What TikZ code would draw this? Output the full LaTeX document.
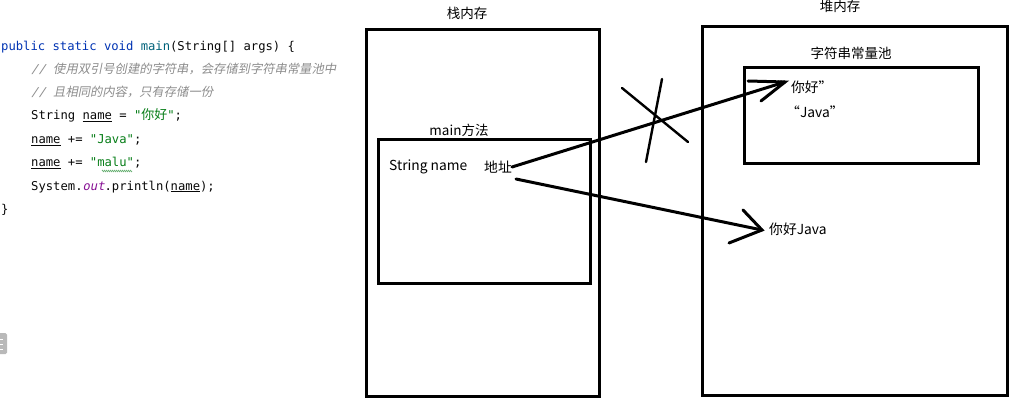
\documentclass[tikz,border=0pt]{standalone}
\usepackage{fontspec}
\usetikzlibrary{decorations.pathmorphing}
\setmainfont{Noto Sans CJK SC}
\newfontfamily\codefont{DejaVu Sans Mono}
\newfontfamily\codeit[FakeSlant=0.2]{DejaVu Sans Mono}
\newfontfamily\cjk{Noto Sans CJK SC}
\newfontfamily\cjkit[FakeSlant=0.2]{Noto Sans CJK SC}
\definecolor{kw}{HTML}{0033B3}
\definecolor{fn}{HTML}{00627A}
\definecolor{str}{HTML}{067D17}
\definecolor{cm}{HTML}{8C8C8C}
\definecolor{outc}{HTML}{871094}
\definecolor{txt}{HTML}{080808}
\newcommand{\cfs}{\fontsize{12.2}{14}\selectfont}
\newcommand{\zh}[1]{{\cjk\fontsize{13}{14}\selectfont #1}}
\newcommand{\zhit}[1]{{\cjkit\fontsize{12.3}{14}\selectfont #1}}
\newcommand{\nm}{\underline{name}}
\begin{document}
\begin{tikzpicture}[x=1pt,y=-1pt,
  code/.style={anchor=base west,inner sep=0pt,font=\codefont\cfs,text=txt},
  box/.style={draw,line width=3pt,minimum width=#1,inner sep=0pt},
  lbl/.style={inner sep=0pt,font=\fontsize{13.5}{15}\selectfont},
  txtn/.style={inner sep=0pt,font=\fontsize{13.8}{15}\selectfont},
  pen/.style={line width=3pt,line cap=round},
  thin pen/.style={line width=2.4pt,line cap=round}]
\useasboundingbox (0,0) rectangle (1018,401);
% code
\node[code] (c1) at (1,51) {\textcolor{kw}{public static void} \textcolor{fn}{main}(String[] args) \{};
\node[code] (c2) at (31,74) {\textcolor{cm}{{\codeit//} \zhit{使用双引号创建的字符串，会存储到字符串常量池中}}};
\node[code] (c3) at (31,97) {\textcolor{cm}{{\codeit//} \zhit{且相同的内容，只有存储一份}}};
\node[code] (c4) at (31,120) {String \nm{} = \textcolor{str}{"\zh{你好}"};};
\node[code] (c5) at (31,144) {\nm{} += \textcolor{str}{"Java"};};
\node[code] (c6) at (31,167) {\nm{} += \textcolor{str}{"malu"};};
\node[code] (c7) at (31,190) {System.\textcolor{outc}{\codeit out}.println(\nm);};
\node[code] (c8) at (1,213) {\}};
\draw[str!60,line width=0.6pt,decorate,decoration={zigzag,amplitude=0.8pt,segment length=2pt}] (102,171) -- (132,171);
% left artifact
\fill[gray!55,rounded corners=1.5pt] (-3,333) rectangle (7,354);
\foreach \yy in {339,344,349} \draw[white,line width=1pt] (0,\yy) -- (3,\yy);
% stack
\node[box=233pt,minimum height=366pt] (stack) at (482.5,213) {};
\node[lbl] (stacklbl) at (467,13) {栈内存};
\node[box=212pt,minimum height=143pt] (mainbox) at (484,211.5) {};
\node[lbl,anchor=south] (mainlbl) at (459,137) {main方法};
\node[txtn,anchor=west] (sn) at (389,167) {String name};
\node[txtn,anchor=west] (addr) at (484,167) {地址};
% heap
\node[box=305pt,minimum height=368pt] (heap) at (854.5,211) {};
\node[lbl] (heaplbl) at (840,6) {堆内存};
\node[box=234pt,minimum height=96pt] (pool) at (861,116) {};
\node[lbl] (poollbl) at (851,53) {字符串常量池};
\node[txtn,anchor=west] (nihao) at (777,87) {"你好"};
\node[txtn,anchor=west] (java) at (786,112) {“Java”};
\node[txtn,anchor=west] (nihaojava) at (769,229) {你好Java};
% arrow 1 (crossed)
\coordinate (t1) at (785,82);
\coordinate (t1a) at (748,81);
\coordinate (t1b) at (761,101);
\draw[pen] (addr.east) -- (t1);
\draw[pen] (t1a) -- (t1) -- (t1b);
% cross
\coordinate (x1a) at (622,88);
\coordinate (x1b) at (688,142);
\coordinate (x2a) at (662,79);
\coordinate (x2b) at (646,162);
\draw[thin pen] (x1a) -- (x1b);
\draw[thin pen] (x2a) -- (x2b);
% arrow 2
\coordinate (a2) at (516,179);
\coordinate (t2) at (762,230);
\coordinate (t2a) at (743,210);
\coordinate (t2b) at (729,243);
\draw[pen] (a2) -- (t2);
\draw[pen] (t2a) -- (t2) -- (t2b);
\end{tikzpicture}
\end{document}
